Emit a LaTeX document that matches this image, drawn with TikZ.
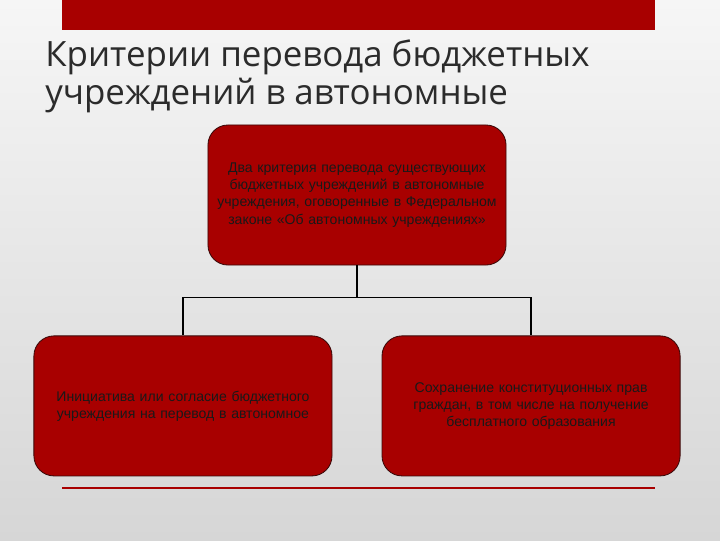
\documentclass[tikz,border=0pt]{standalone}
\usepackage{fontspec}
\setmainfont{Liberation Sans}
\newfontfamily\titlefont{Open Sans}
\usetikzlibrary{positioning}
\definecolor{slidered}{HTML}{A80000}
\definecolor{titlegray}{HTML}{2B2B2B}
\definecolor{edgedark}{HTML}{3A0A0A}
\definecolor{bgtop}{HTML}{F6F6F6}
\definecolor{bgbottom}{HTML}{D6D6D6}

\begin{document}
\begin{tikzpicture}[
  x=0.025cm, y=-0.025cm,
  crit/.style={draw=edgedark, line width=0.6pt, fill=slidered, rounded corners=0.5cm,
               minimum width=7.45cm, minimum height=3.5cm, text width=7.1cm,
               align=center, text=black!90, font=\fontsize{10}{12.2}\selectfont},
  link/.style={draw=black, line width=1.2pt},
  heading/.style={anchor=north west, align=left, text=titlegray, inner sep=0pt,
                  font=\titlefont\fontsize{24.8}{27.5}\selectfont}
]
  \useasboundingbox (0,0) rectangle (720,540);
  \shade[top color=bgtop, bottom color=bgbottom] (0,0) rectangle (720,540);
  \fill[slidered] (62,0) rectangle (655,30);
  \fill[slidered] (62,487) rectangle (655,489);

  \node[heading] (title) at (45,39) {Критерии перевода бюджетных\\учреждений в автономные};

  \node[crit] (top) at (357,195) {Два критерия перевода существующих
  бюджетных учреждений в автономные учреждения, оговоренные в Федеральном
  законе «Об автономных учреждениях»};
  \node[crit, below=1.75cm of top, xshift=-4.35cm] (initiative) {Инициатива или согласие
  бюджетного\\учреждения на перевод в автономное};
  \node[crit, below=1.75cm of top, xshift=4.35cm] (rights) {Сохранение конституционных
  прав\\граждан, в том числе на получение\\бесплатного образования};

  \coordinate (split) at ([yshift=-0.8cm]top.south);
  \draw[link] (top.south) -- (split);
  \draw[link] (split) -| (initiative.north);
  \draw[link] (split) -| (rights.north);
\end{tikzpicture}
\end{document}
